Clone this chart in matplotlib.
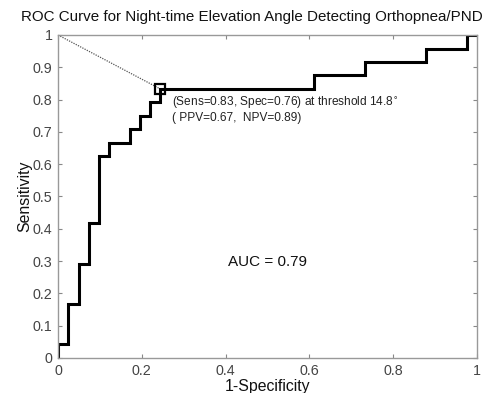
import numpy as np
import matplotlib
matplotlib.use("Agg")
import matplotlib.pyplot as plt

plt.rcParams['font.family'] = ['Liberation Sans', 'DejaVu Sans']

# ROC corner points (1-specificity, sensitivity)
FPR = [0.0, 0.0, 0.024, 0.049, 0.073, 0.098, 0.122, 0.171, 0.195, 0.220,
       0.244, 0.610, 0.732, 0.878, 0.976, 1.0]
TPR = [0.0, 0.042, 0.167, 0.292, 0.417, 0.625, 0.667, 0.708, 0.750, 0.792,
       0.833, 0.875, 0.917, 0.958, 1.0, 1.0]

# optimal operating point
OPT_FPR = 0.244
OPT_TPR = 0.833
AUC = 0.79

TITLE = "ROC Curve for Night-time Elevation Angle Detecting Orthopnea/PND"
NOTE_1 = "(Sens=0.83, Spec=0.76) at threshold 14.8$^{\\circ}$"
NOTE_2 = "( PPV=0.67,  NPV=0.89)"

XTICKS = [0, 0.2, 0.4, 0.6, 0.8, 1]
YTICKS = [0, 0.1, 0.2, 0.3, 0.4, 0.5, 0.6, 0.7, 0.8, 0.9, 1]

fig = plt.figure(figsize=(4.92, 3.93), dpi=100)
ax = fig.add_axes([0.1179, 0.0891, 0.8516, 0.8219])

# dotted line from the top-left corner to the chosen cut-off
ax.plot([0, OPT_FPR], [1, OPT_TPR], ls=(0, (1, 1)), color="#555555", lw=0.9)
ax.plot(FPR, TPR, drawstyle="steps-post", color="black", lw=2.2,
        solid_joinstyle="miter")
ax.plot([OPT_FPR], [OPT_TPR], marker="s", ms=7, mfc="none", mec="black", mew=1.6)

ax.text(0.273, 0.789, NOTE_1, fontsize=8.6, color="#222222", va="center")
ax.text(0.273, 0.744, NOTE_2, fontsize=8.6, color="#222222", va="center")
ax.text(0.406, 0.297, f"AUC = {AUC:.2f}", fontsize=11, color="#111111", va="center")

ax.set_xlim(0, 1)
ax.set_ylim(0, 1)
ax.set_xticks(XTICKS)
ax.set_xticklabels([f"{t:g}" for t in XTICKS])
ax.set_yticks(YTICKS)
ax.set_yticklabels([f"{t:g}" for t in YTICKS])
ax.tick_params(direction="in", length=3, width=0.8, color="#888888",
               labelsize=10.3, labelcolor="#444444", top=True, right=True, pad=4)
for s in ax.spines.values():
    s.set_color("#999999")
    s.set_linewidth(1.0)

ax.set_xlabel("1-Specificity", fontsize=11.4, color="#111111", labelpad=1)
ax.set_ylabel("Sensitivity", fontsize=11.4, color="#111111", labelpad=0)
fig.text(0.511, 0.957, TITLE, fontsize=10.9, color="#111111", ha="center", va="center")

fig.savefig("out.png", dpi=100)
